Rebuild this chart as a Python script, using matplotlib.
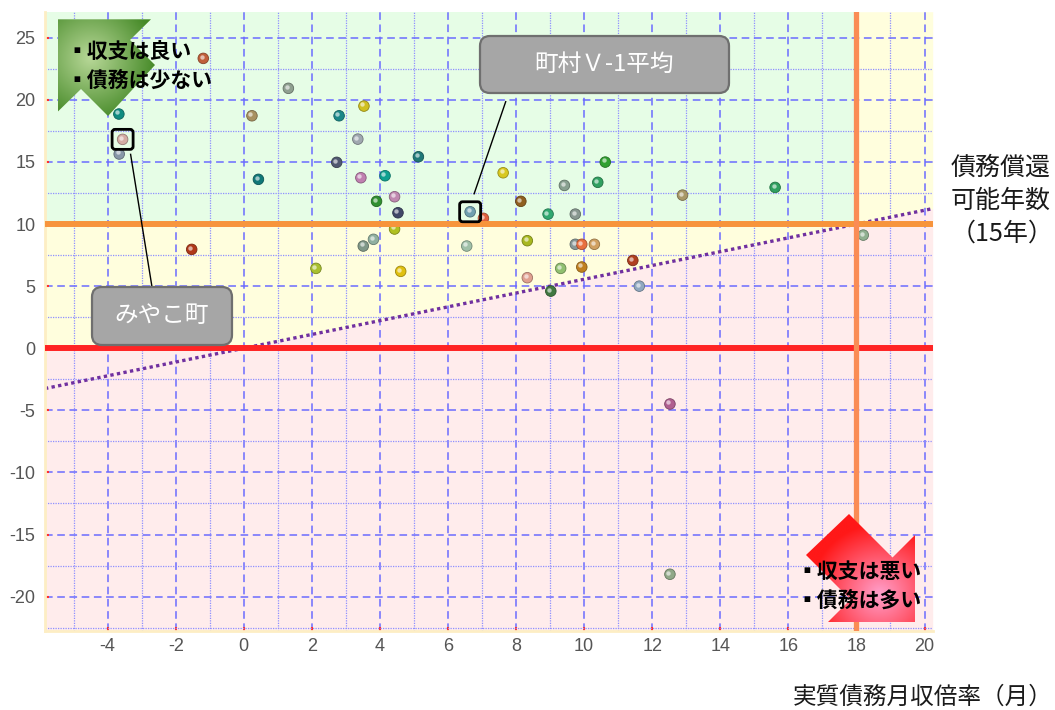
import numpy as np
import matplotlib
matplotlib.use("Agg")
import matplotlib.pyplot as plt
from matplotlib.patches import Polygon, FancyBboxPatch
from matplotlib.ticker import MultipleLocator, FixedLocator
from matplotlib.transforms import offset_copy
from matplotlib.colors import to_rgb

plt.rcParams["axes.unicode_minus"] = False

# ---------------- data ----------------
x_vals = [-1.19, 1.31, -3.67, 0.24, 2.80, -3.56, -3.66, 2.73, 0.43, 3.53,
          3.35, 5.13, 3.44, 4.15, 7.62, 9.42, 10.40, 10.62, 3.90, 4.43,
          4.53, 6.65, 7.04, 8.14, 8.94, 9.74, 4.43, 3.81, 3.51, 6.55,
          8.33, 9.74, 9.93, 10.30, 4.61, 9.31, 9.93, 8.33, 9.02, 11.43,
          11.62, -1.53, 2.12, 12.89, 15.61, 18.20, 12.52, 12.52]
y_vals = [23.34, 20.93, 18.86, 18.72, 18.72, 16.82, 15.64, 14.97, 13.60, 19.50,
          16.84, 15.42, 13.73, 13.89, 14.13, 13.11, 13.36, 14.99, 11.83, 12.20,
          10.91, 10.99, 10.46, 11.83, 10.80, 10.80, 9.60, 8.77, 8.23, 8.23,
          8.66, 8.37, 8.37, 8.37, 6.19, 6.43, 6.54, 5.68, 4.60, 7.07,
          5.00, 7.96, 6.43, 12.33, 12.95, 9.11, -4.49, -18.20]
point_colors = ["#c0603a", "#8fa090", "#108c80", "#a89060", "#1a8888", "#d4aca4", "#8898a8", "#505870", "#107878", "#d0c020",
                "#a0a8b0", "#207878", "#c080b0", "#10a090", "#d8c820", "#88a090", "#30a060", "#30a030", "#309030", "#c088b0",
                "#404868", "#70a0b0", "#e06040", "#906020", "#30a870", "#889890", "#b0c020", "#90b0a0", "#809888", "#a0c0a8",
                "#a8b820", "#889898", "#e87040", "#d0a060", "#e0c010", "#90c070", "#c08020", "#e0a090", "#407840", "#b04020",
                "#90a8c0", "#b03818", "#a8c030", "#a89868", "#30a060", "#90b090", "#b06090", "#90a888"]

town_name = "みやこ町"
town_index = 5
avg_name = "町村Ｖ-1平均"
avg_index = 21

x_ticks = list(range(-4, 21, 2))
y_ticks = list(range(-20, 26, 5))
x_limit = 18      # 実質債務月収倍率 基準
y_limit = 10      # 債務償還可能年数 基準
x_label = "実質債務月収倍率（月）"
y_label_lines = ["債務償還", "可能年数", "（15年）"]
good_lines = ["▪収支は良い", "▪債務は少ない"]
bad_lines = ["▪収支は悪い", "▪債務は多い"]

JP = ["Noto Sans CJK JP", "DejaVu Sans"]

# ---------------- figure ----------------
W, H = 1055, 710
fig = plt.figure(figsize=(W / 100, H / 100), dpi=100)
ax = fig.add_axes([45 / W, (H - 631) / H, (932.7 - 45) / W, (631 - 11.7) / H])
xmin, xmax = -5.84, 20.24
ymin, ymax = -22.77, 27.1
ax.set_xlim(xmin, xmax)
ax.set_ylim(ymin, ymax)

# background zones
xa = np.linspace(xmin, x_limit, 400)
xb = np.linspace(x_limit, xmax, 50)
la = xa * y_limit / x_limit
lb = xb * y_limit / x_limit
green, yellow, pink = "#e6fde6", "#fffedd", "#ffecec"
ax.fill_between(xa, ymin, np.maximum(0, la), color=pink, lw=0, zorder=0.1)
ax.fill_between(xb, ymin, lb, color=pink, lw=0, zorder=0.1)
ax.fill_between(xa, np.maximum(0, la), y_limit, color=yellow, lw=0, zorder=0.1)
ax.fill_between(xb, lb, ymax, color=yellow, lw=0, zorder=0.1)
ax.fill_between(xa, y_limit, ymax, color=green, lw=0, zorder=0.1)

# grid
ax.xaxis.set_major_locator(FixedLocator(x_ticks))
ax.yaxis.set_major_locator(FixedLocator(y_ticks))
ax.xaxis.set_minor_locator(MultipleLocator(1))
ax.yaxis.set_minor_locator(MultipleLocator(2.5))
ax.set_axisbelow(True)
ax.grid(which="major", color="#6b6bff", linestyle=(0, (5, 3)), linewidth=1.1)
ax.grid(which="minor", color="#8f8fff", linestyle=(0, (1, 1)), linewidth=0.9)

# reference lines
xl = np.array([xmin, xmax])
ax.plot(xl, xl * y_limit / x_limit, color="#7030a0", lw=2.4, linestyle=(0, (1, 1)), zorder=2)
ax.axhline(y_limit, color="#f7943c", lw=4.3, zorder=3.5)
ax.axhline(0, color="#ff2424", lw=4.3, zorder=3.5)
ax.axvline(x_limit, color="#fa8c55", lw=3.8, zorder=3.6)

# spheres
def darker(c, f=0.7):
    r, g, b = to_rgb(c)
    return (r * f, g * f, b * f)

ax.scatter(x_vals, y_vals, s=58, c=point_colors, edgecolors=[darker(c) for c in point_colors],
           linewidths=0.6, zorder=3)
hl = offset_copy(ax.transData, fig=fig, x=-1.6, y=1.6, units="dots")
ax.scatter(x_vals, y_vals, s=10, c="white", alpha=0.6, linewidths=0, zorder=3.1, transform=hl)

# axes styling
for s in ["top", "right"]:
    ax.spines[s].set_visible(False)
for s in ["left", "bottom"]:
    ax.spines[s].set_color("#fdeec4")
    ax.spines[s].set_linewidth(2)
ax.tick_params(which="major", direction="in", length=3, width=1.5, color="#ff3030",
               labelsize=13, labelcolor="#555555")
ax.tick_params(which="minor", length=0)
ax.tick_params(axis="y", pad=7)
ax.tick_params(axis="x", pad=5)
for lab in ax.get_xticklabels() + ax.get_yticklabels():
    lab.set_family(["Liberation Sans", "DejaVu Sans"])

# ---------------- overlay (pixel coordinates, y downward) ----------------
ov = fig.add_axes([0, 0, 1, 1], zorder=5)
ov.set_xlim(0, W)
ov.set_ylim(H, 0)
ov.axis("off")
ov.patch.set_alpha(0)


def to_px(x, y):
    dx, dy = ax.transData.transform((x, y))
    return dx, H - dy


def grad_arrow(verts, center, inner, outer, radius):
    poly = Polygon(verts, closed=True, facecolor="none", edgecolor="none")
    ov.add_patch(poly)
    v = np.array(verts)
    x0, x1 = v[:, 0].min(), v[:, 0].max()
    y0, y1 = v[:, 1].min(), v[:, 1].max()
    gx, gy = np.meshgrid(np.linspace(x0, x1, 200), np.linspace(y0, y1, 200))
    d = np.clip(np.hypot(gx - center[0], gy - center[1]) / radius, 0, 1)[..., None]
    rgb = np.array(to_rgb(inner)) * (1 - d) + np.array(to_rgb(outer)) * d
    im = ov.imshow(rgb, extent=(x0, x1, y1, y0), origin="upper", aspect="auto",
                   interpolation="bilinear", zorder=1)
    im.set_clip_path(poly)


grad_arrow([(57.7, 19.3), (151, 19.3), (130, 40), (155, 65), (108, 116), (81, 89), (57.7, 111.7)],
           (90, 58), "#b8d898", "#468a28", 65)
grad_arrow([(849, 514), (892.5, 557.5), (915, 535), (915, 622), (828, 622), (850.5, 599.5), (806, 555)],
           (880, 594), "#ffa0cc", "#ff1818", 70)
ov.set_xlim(0, W)
ov.set_ylim(H, 0)

for i, t in enumerate(good_lines):
    ov.text(66, 51.5 + i * 28.5, t, family=JP, fontsize=15, fontweight="bold", color="black",
            va="center", ha="left", zorder=3)
for i, t in enumerate(bad_lines):
    ov.text(796, 571.5 + i * 28.5, t, family=JP, fontsize=15, fontweight="bold", color="black",
            va="center", ha="left", zorder=3)

# callout boxes
def callout(x0, y0, x1, y1, text, size):
    box = FancyBboxPatch((x0, y0), x1 - x0, y1 - y0, boxstyle="round,pad=0,rounding_size=10",
                         facecolor="#a6a6a6", edgecolor="#6f6f6f", lw=1.6, zorder=4)
    ov.add_patch(box)
    ov.text((x0 + x1) / 2, (y0 + y1) / 2, text, family=JP, fontsize=size, color="white",
            ha="center", va="center", zorder=5)


def mark(idx):
    px, py = to_px(x_vals[idx], y_vals[idx])
    sq = FancyBboxPatch((px - 10.5, py - 10), 21, 20, boxstyle="round,pad=0,rounding_size=3",
                        facecolor="none", edgecolor="black", lw=2, zorder=4)
    ov.add_patch(sq)
    return px, py


apx, apy = mark(avg_index)
ov.plot([505.7, apx + 4], [101.7, apy - 18], color="black", lw=1, zorder=3)
callout(480, 36, 729, 93, avg_name, 17)

tpx, tpy = mark(town_index)
ov.plot([152, tpx + 8], [287, tpy + 15], color="black", lw=1, zorder=3)
callout(92, 287, 232, 345, town_name, 17)

# outer labels
for i, t in enumerate(y_label_lines):
    ov.text(951, 168 + i * 33, t, family=JP, fontsize=18, color="#1a1a1a", ha="left", va="center")
ov.text(1053, 697, x_label, family=JP, fontsize=17, color="#1a1a1a", ha="right", va="center")

fig.savefig("out.png", dpi=100)
